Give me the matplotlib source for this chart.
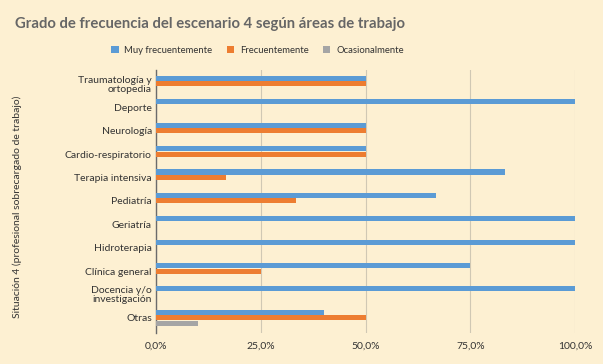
import numpy as np
import matplotlib.pyplot as plt
from matplotlib.ticker import FuncFormatter

categories = ['Traumatología y\nortopedia', 'Deporte', 'Neurología', 'Cardio-respiratorio',
              'Terapia intensiva', 'Pediatría', 'Geriatría', 'Hidroterapia',
              'Clínica general', 'Docencia y/o\ninvestigación', 'Otras']
muy_frec = [50, 100, 50, 50, 83.3, 66.7, 100, 100, 75, 100, 40]
frec = [50, 0, 50, 50, 16.7, 33.3, 0, 0, 25, 0, 50]
ocasional = [0, 0, 0, 0, 0, 0, 0, 0, 0, 0, 10]
series_names = ['Muy frecuentemente', 'Frecuentemente', 'Ocasionalmente']
colors = ['#5B9BD5', '#ED7D31', '#A5A5A5']

plt.rcParams['font.family'] = ['Lato', 'DejaVu Sans']
bg = '#FDF0D2'

fig = plt.figure(figsize=(6.03, 3.64), dpi=100, facecolor=bg)
ax = fig.add_axes([0.2587, 0.085, 0.695, 0.723], facecolor=bg)

y = np.arange(len(categories))
h = 0.235
for i, vals in enumerate([muy_frec, frec, ocasional]):
    ax.barh(y + (i - 1) * h, vals, height=h * 0.92, color=colors[i],
            label=series_names[i], zorder=3)

ax.set_xlim(0, 100)
ax.set_ylim(len(categories) - 0.35, -0.6)
ax.set_xticks([0, 25, 50, 75, 100])
ax.xaxis.set_major_formatter(FuncFormatter(lambda v, p: f'{v:.1f}%'.replace('.', ',')))
ax.set_yticks(y)
ax.set_yticklabels(categories, fontsize=7.5, color='#333333', linespacing=1.0)
ax.tick_params(axis='x', labelsize=7.5, colors='#333333', length=0, pad=6)
ax.tick_params(axis='y', length=0, pad=3)
ax.grid(axis='x', color='#D0C8B4', linewidth=0.8, zorder=0)
for s in ['top', 'right', 'bottom']:
    ax.spines[s].set_visible(False)
ax.spines['left'].set_color('#6b6b6b')
ax.spines['left'].set_linewidth(1.0)

ax.set_ylabel('Situación 4 (profesional sobrecargado de trabajo)', fontsize=7.5,
              color='#333333')
ax.yaxis.set_label_coords(-0.32, 0.48)

fig.text(0.025, 0.935, 'Grado de frecuencia del escenario 4 según áreas de trabajo',
         fontsize=10.7, fontweight='bold', color='#666666', va='center')
fig.legend(loc='center', bbox_to_anchor=(0.427, 0.862), ncol=3, frameon=False,
           fontsize=6.8, handlelength=0.8, handleheight=0.9, columnspacing=1.5,
           handletextpad=0.6, labelcolor='#333333')

fig.savefig('out.png', dpi=100, facecolor=bg)
